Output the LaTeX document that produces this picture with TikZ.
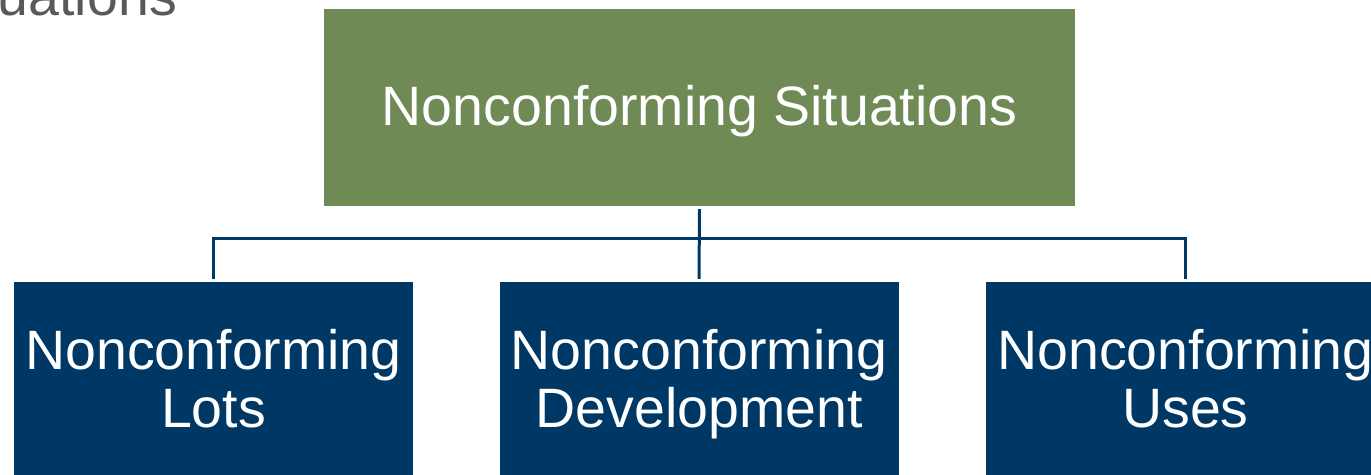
\documentclass[tikz,border=0pt]{standalone}
\usepackage{fontspec}
\setmainfont{Liberation Sans}
\usetikzlibrary{positioning}
\definecolor{titlegreen}{RGB}{111,138,84}
\definecolor{boxblue}{RGB}{0,56,101}
\definecolor{slidegray}{RGB}{89,89,89}
\tikzset{
	bigtext/.style={font=\fontsize{55.5}{58}\selectfont},
	headbox/.style={bigtext, fill=titlegreen, text=white, minimum width=751pt, minimum height=197pt, inner sep=0pt, text height=40pt, text depth=5pt},
	itembox/.style={bigtext, fill=boxblue, text=white, minimum width=399pt, minimum height=209pt, inner sep=0pt, align=center},
	link/.style={draw=boxblue, line width=3pt}
}

\begin{document}
\begin{tikzpicture}[x=1pt, y=-1pt]
		%%%%% START %%%%%
		\useasboundingbox (0, 0) rectangle (1371, 474);
		
		\node[bigtext, text=slidegray, anchor=base east, inner sep=0pt] (slidetitle) at (177, 15) {Situations};
		
		\node[headbox] (situations) at (699.5, 107.5) {Nonconforming Situations};
		
		\node[itembox] (lots) at (213.5, 386.5) {Nonconforming\strut\\Lots\strut};
		\node[itembox] (development) at (699, 386.5) {Nonconforming\strut\\Development\strut};
		\node[itembox] (uses) at (1185.5, 386.5) {Nonconforming\strut\\Uses\strut};
		
		\coordinate (fork) at (699, 238);
		\draw[link] ([yshift=-3pt]situations.south) -- ([yshift=3pt]development.north);
		\draw[link] ([yshift=3pt]lots.north) |- (fork) -| ([yshift=3pt]uses.north);
		
		%%%%% END %%%%%
\end{tikzpicture}
\end{document}
